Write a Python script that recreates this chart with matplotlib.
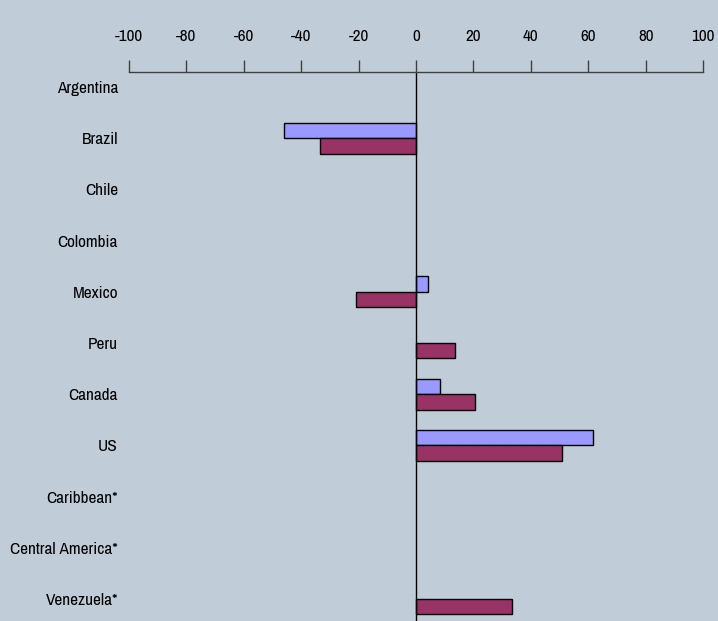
import numpy as np
import matplotlib
matplotlib.use("Agg")
import matplotlib.pyplot as plt

plt.rcParams["font.family"] = ["Archivo Narrow", "Liberation Sans", "DejaVu Sans"]

categories = ["Argentina", "Brazil", "Chile", "Colombia", "Mexico", "Peru",
              "Canada", "US", "Caribbean*", "Central America*", "Venezuela*"]
series_a = [np.nan, -46, np.nan, np.nan, 4, np.nan, 8.5, 61.5, np.nan, np.nan, np.nan]
series_b = [np.nan, -33.5, np.nan, np.nan, -21, 13.5, 20.5, 51, np.nan, np.nan, 33.5]
xticks = list(range(-100, 101, 20))

bg = "#C0CDD8"
col_a = "#9999FF"
col_b = "#993366"

fig = plt.figure(figsize=(7.18, 6.21), dpi=100)
fig.patch.set_facecolor(bg)
ax = fig.add_axes([0.1797, 0.0, 0.7995, 0.884])
ax.set_facecolor(bg)

y = np.arange(len(categories))
a = np.array(series_a, dtype=float)
b = np.array(series_b, dtype=float)
ma = ~np.isnan(a)
mb = ~np.isnan(b)
ax.barh(y[ma] - 0.15, a[ma], height=0.3, color=col_a, edgecolor="black", linewidth=1)
ax.barh(y[mb] + 0.15, b[mb], height=0.3, color=col_b, edgecolor="black", linewidth=1)

ax.axvline(0, color="black", linewidth=1)

ax.set_xlim(-100, 100)
ax.set_ylim(10.43, -0.293)
ax.set_yticks(y)
ax.set_yticklabels(categories, fontsize=12.4)
ax.tick_params(axis="y", length=0, pad=8)

ax.xaxis.tick_top()
ax.set_xticks(xticks)
ax.set_xticklabels([str(t) for t in xticks], fontsize=12.4)
ax.tick_params(axis="x", direction="out", length=9, width=1, color="#404040", pad=11)

for s in ["left", "right", "bottom"]:
    ax.spines[s].set_visible(False)
ax.spines["top"].set_color("#404040")
ax.spines["top"].set_linewidth(1)

fig.savefig("out.png", dpi=100, facecolor=bg)
